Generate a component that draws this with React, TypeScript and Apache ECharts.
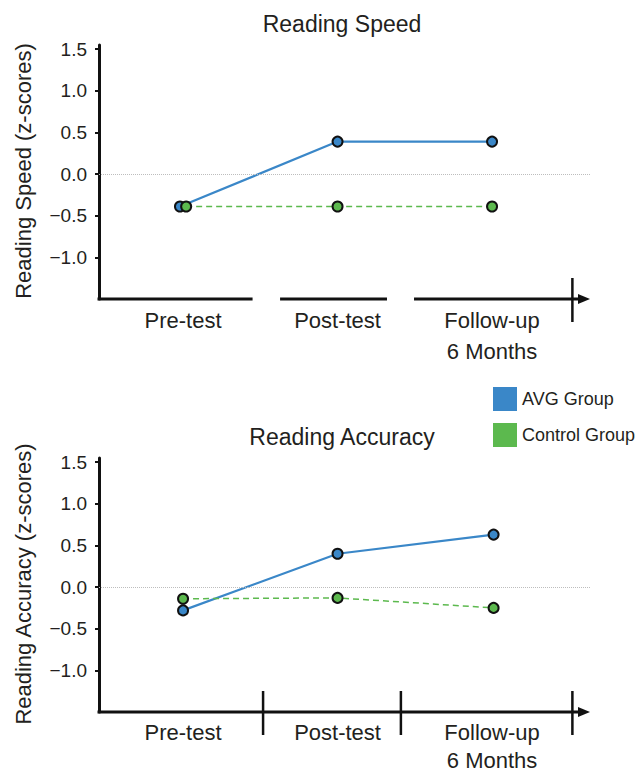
import React, { useEffect, useRef } from "react";
import * as echarts from "echarts";

const categories = ["Pre-test", "Post-test", "Follow-up\n6 Months"];
const categoryX = [1, 2, 3];
const seriesNames = ["AVG Group", "Control Group"];
const titles = ["Reading Speed", "Reading Accuracy"];
const yNames = ["Reading Speed (z-scores)", "Reading Accuracy (z-scores)"];
const yTicks = [-1.0, -0.5, 0, 0.5, 1.0, 1.5];

// Reading speed (z-scores); pre-test points are slightly dodged in the figure
const speedAvgX = [0.98, 2, 3];
const speedCtrlX = [1.02, 2, 3];
const speedAvg = [-0.39, 0.39, 0.39];
const speedCtrl = [-0.39, -0.39, -0.39];

// Reading accuracy (z-scores)
const accAvgX = [1, 2, 3.01];
const accCtrlX = [1, 2, 3.01];
const accAvg = [-0.28, 0.4, 0.63];
const accCtrl = [-0.14, -0.13, -0.25];

const X_MIN = 0.456;
const X_MAX = 3.634;
const Y_MIN = -1.5;
const Y_MAX = 1.55;

// x-axis drawing: segments (broken axis on top chart) and vertical divider ticks
const speedAxisSegments = [
  [X_MIN, 1.45],
  [1.628, 2.32],
  [2.495, X_MAX],
];
const speedAxisTicks = [3.52];
const accAxisSegments = [[X_MIN, X_MAX]];
const accAxisTicks = [1.518, 2.41, 3.52];

const BLUE = "#3a87c8";
const GREEN = "#5cb94e";
const INK = "#231f20";
const FONT = "'Liberation Sans', Arial, sans-serif";

const pairs = (xs: number[], ys: number[]) => xs.map((x, i) => [x, ys[i]]);
const fmtY = (v: number) => (v < 0 ? "\u2212" + Math.abs(v).toFixed(1) : v.toFixed(1));

export default function App() {
  const ref = useRef<HTMLDivElement>(null);
  useEffect(() => {
    if (!ref.current) return;
    const chart = echarts.init(ref.current, undefined, { renderer: "svg" });

    const grids = [
      { left: 99, width: 491, top: 45, height: 254, outerBoundsMode: "none", containLabel: false },
      { left: 99, width: 491, top: 458, height: 254, outerBoundsMode: "none", containLabel: false },
    ];
    const labelMargins = [6, 6];
    const labelLineHeights = [31, 28];

    const xAxis = grids.map((_, gi) => ({
      type: "value",
      gridIndex: gi,
      min: X_MIN,
      max: X_MAX,
      axisLine: { show: false },
      axisTick: { show: false },
      splitLine: { show: false },
      axisLabel: {
        customValues: categoryX,
        formatter: (v: number) => categories[categoryX.indexOf(Math.round(v))] ?? "",
        fontFamily: FONT,
        fontSize: 22,
        lineHeight: labelLineHeights[gi],
        color: INK,
        margin: labelMargins[gi],
        showMinLabel: true,
        showMaxLabel: true,
      },
    }));

    const yAxis = grids.map((_, gi) => ({
      type: "value",
      gridIndex: gi,
      min: Y_MIN,
      max: Y_MAX,
      axisLine: { show: true, lineStyle: { color: "#111", width: 3 } },
      axisTick: {
        show: true,
        customValues: yTicks,
        length: 4,
        lineStyle: { color: "#111", width: 2 },
      },
      splitLine: { show: false },
      axisLabel: {
        customValues: yTicks,
        formatter: fmtY,
        fontFamily: FONT,
        fontSize: 19,
        color: INK,
        margin: 12,
      },
    }));

    const zeroLine = {
      silent: true,
      symbol: "none",
      label: { show: false },
      lineStyle: { type: "dotted", color: "#bdbdbd", width: 1 },
      data: [{ yAxis: 0 }],
    };

    const avgSeries = (gi: number, data: number[][]) => ({
      name: seriesNames[0],
      type: "line",
      xAxisIndex: gi,
      yAxisIndex: gi,
      data,
      symbol: "circle",
      symbolSize: 10,
      lineStyle: { color: BLUE, width: 2.2 },
      itemStyle: { color: BLUE, borderColor: "#111", borderWidth: 2 },
      markLine: zeroLine,
      z: 3,
    });
    const ctrlSeries = (gi: number, data: number[][]) => ({
      name: seriesNames[1],
      type: "line",
      xAxisIndex: gi,
      yAxisIndex: gi,
      data,
      symbol: "circle",
      symbolSize: 10,
      lineStyle: { color: GREEN, width: 1.5, type: [6, 4] },
      itemStyle: { color: GREEN, borderColor: "#111", borderWidth: 2 },
      z: 4,
    });

    chart.setOption({
      animation: false,
      grid: grids,
      xAxis,
      yAxis,
      legend: {
        data: seriesNames,
        orient: "vertical",
        left: 488,
        top: 382,
        icon: "rect",
        itemWidth: 24,
        itemHeight: 24,
        itemGap: 12,
        itemStyle: { borderWidth: 0 },
        textStyle: { fontFamily: FONT, fontSize: 18, color: INK },
        selectedMode: false,
      },
      series: [
        avgSeries(0, pairs(speedAvgX, speedAvg)),
        ctrlSeries(0, pairs(speedCtrlX, speedCtrl)),
        avgSeries(1, pairs(accAvgX, accAvg)),
        ctrlSeries(1, pairs(accCtrlX, accCtrl)),
      ],
    });

    const px = (gi: number, x: number, y: number) =>
      chart.convertToPixel({ gridIndex: gi } as any, [x, y]) as number[];

    const graphics: any[] = [];
    const axisDefs = [
      { segs: speedAxisSegments, ticks: speedAxisTicks },
      { segs: accAxisSegments, ticks: accAxisTicks },
    ];
    axisDefs.forEach((def, gi) => {
      const y0 = px(gi, X_MIN, Y_MIN)[1];
      const tipX = px(gi, X_MAX, Y_MIN)[0];
      def.segs.forEach((s, si) => {
        let x1 = px(gi, s[0], Y_MIN)[0];
        let x2 = px(gi, s[1], Y_MIN)[0];
        if (si === 0) x1 -= 1.5;
        if (s[1] === X_MAX) x2 = tipX - 10;
        graphics.push({
          type: "line",
          shape: { x1, y1: y0, x2, y2: y0 },
          style: { stroke: "#111", lineWidth: 3 },
          z: 10,
        });
      });
      graphics.push({
        type: "polygon",
        shape: { points: [[tipX - 12, y0 - 5], [tipX, y0], [tipX - 12, y0 + 5]] },
        style: { fill: "#111" },
        z: 10,
      });
      def.ticks.forEach((t) => {
        const x = px(gi, t, Y_MIN)[0];
        graphics.push({
          type: "line",
          shape: { x1: x, y1: y0 - 21, x2: x, y2: y0 + 23 },
          style: { stroke: "#111", lineWidth: 2.5 },
          z: 10,
        });
      });
      const yTop = px(gi, X_MIN, Y_MAX)[1];
      const yBot = y0;
      graphics.push({
        type: "text",
        x: 342,
        y: gi === 0 ? 24 : 437,
        style: {
          text: titles[gi],
          fontFamily: FONT,
          fontSize: 23,
          fill: INK,
          align: "center",
          verticalAlign: "middle",
        },
      });
      graphics.push({
        type: "text",
        x: 23,
        y: (yTop + yBot) / 2 - 1,
        rotation: Math.PI / 2,
        style: {
          text: yNames[gi],
          fontFamily: FONT,
          fontSize: 22,
          fill: INK,
          align: "center",
          verticalAlign: "middle",
        },
      });
    });

    chart.setOption({ graphic: graphics });

    return () => chart.dispose();
  }, []);

  return (
    <div
      ref={ref}
      style={{ position: "absolute", left: 0, top: 0, width: 641, height: 774 }}
    />
  );
}
